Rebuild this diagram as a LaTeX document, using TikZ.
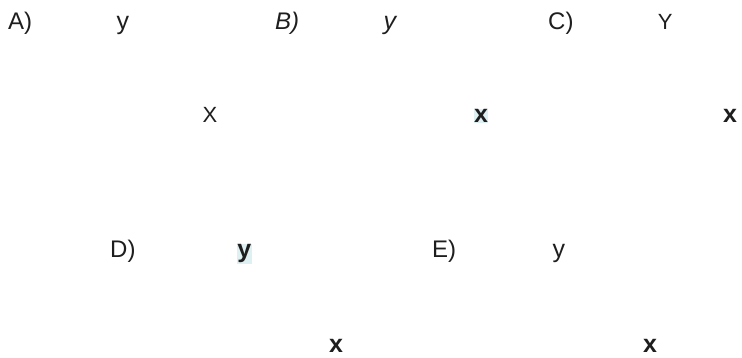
\documentclass[tikz,border=0pt]{standalone}
\usepackage{fontspec}
\setmainfont{Liberation Sans}
\usetikzlibrary{positioning}
\definecolor{ink}{RGB}{30, 30, 30}
\definecolor{mark}{RGB}{222, 240, 242}
\tikzstyle{tag} = [inner sep=0pt, text=ink, font=\fontsize{24}{28}\selectfont, anchor=base west]
\tikzstyle{var} = [inner sep=0pt, text=ink, font=\fontsize{25}{28}\selectfont]
\tikzstyle{bvar} = [inner sep=0pt, text=ink, font=\fontsize{25}{28}\selectfont\bfseries]
\tikzstyle{marked} = [fill=mark, inner sep=0.5pt]
\begin{document}
\begin{tikzpicture}[x=1pt, y=1pt]
\useasboundingbox (0,0) rectangle (742,358);

% top row ================================
\node[tag] (labA) at (8,328) {A)};
\node[tag, font=\fontsize{24}{28}\selectfont\itshape] (labB) at (275,328) {B)};
\node[tag] (labC) at (548,328) {C)};

\node[var, base right=84pt of labA] (yA) {y};
\node[var, font=\fontsize{25}{28}\selectfont\itshape, base right=84pt of labB] (yB) {y};
\node[var, font=\fontsize{22}{28}\selectfont, base right=84pt of labC] (yC) {Y};

\node[var, font=\fontsize{22}{28}\selectfont, anchor=base] (xA) at (210,235) {X};
\node[bvar, marked, anchor=base] (xB) at (481,235) {x};
\node[bvar, anchor=base] (xC) at (730,235) {x};

% bottom row =============================
\node[tag] (labD) at (110,100) {D)};
\node[tag] (labE) at (432,100) {E)};

\node[bvar, marked, base right=101pt of labD] (yD) {y};
\node[var, base right=96pt of labE] (yE) {y};

\node[bvar, anchor=base] (xD) at (336,5) {x};
\node[bvar, anchor=base] (xE) at (650,5) {x};

\end{tikzpicture}
\end{document}
